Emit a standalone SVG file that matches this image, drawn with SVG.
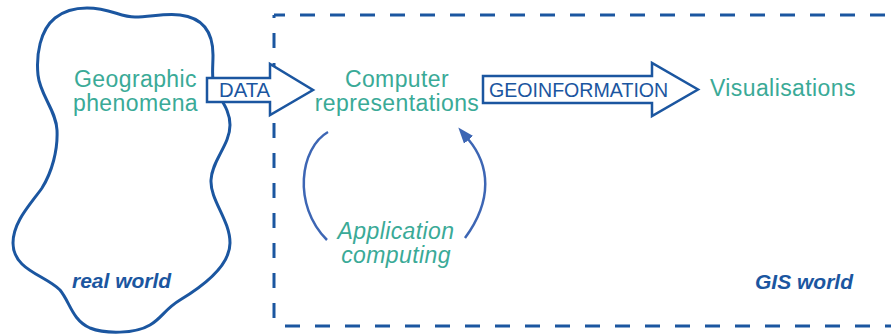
<svg xmlns="http://www.w3.org/2000/svg" width="891" height="335" viewBox="0 0 891 335">
  <style>
    .outline { fill: none; stroke: #1b56a0; stroke-width: 3; }
    .dash { fill: none; stroke: #1b56a0; stroke-width: 3; stroke-dasharray: 15 15; }
    .block { fill: #ffffff; stroke: #1b56a0; stroke-width: 2.5; stroke-linejoin: miter; }
    .teal { fill: #3aaa97; font-family: "Liberation Sans", Arial, sans-serif; font-size: 23px; letter-spacing: 0.4px; }
    .ital { font-style: italic; }
    .label { fill: #1b56a0; font-family: "Liberation Sans", Arial, sans-serif; font-size: 21px; font-weight: bold; font-style: italic; }
    .flow { fill: #1b56a0; font-family: "Liberation Sans", Arial, sans-serif; }
    .cycle { fill: none; stroke: #3d66b4; stroke-width: 2.5; }
  </style>
  <defs>
    <marker id="head" markerUnits="userSpaceOnUse" markerWidth="18" markerHeight="14" viewBox="0 -7 18 14" refX="1" refY="0" orient="auto">
      <path d="M0,-6 L16,0 L0,6 z" fill="#3d66b4"/>
    </marker>
  </defs>

  <g id="real-world">
    <path class="outline" d="M 87,8 C 110,8 120,17 135,17 C 150,17 165,13 180,15 C 205,18 213,35 213,55 C 213,65 212,72 213,80 C 214,95 230,105 230,125 C 230,145 212,160 211,180 C 210,200 230,220 230,243 C 230,265 205,285 180,300 C 165,309 162,318 150,325 C 135,334 105,334 90,328 C 72,320 70,302 60,290 C 45,275 13,270 13,243 C 13,222 30,205 42,188 C 52,172 58,150 57,130 C 56,110 40,95 38,75 C 36,55 40,30 55,18 C 65,10 75,8 87,8 Z"/>
    <text class="label" x="72" y="288">real world</text>
  </g>

  <g id="gis-world">
    <path class="dash" d="M 274,15 H 891" stroke-dashoffset="4"/>
    <path class="dash" d="M 274,15 V 326" stroke-dashoffset="12"/>
    <path class="dash" d="M 274,326 H 891" stroke-dashoffset="19"/>
    <text class="label" x="755" y="289">GIS world</text>
  </g>

  <g id="connectors">
    <g id="data-arrow">
      <polygon class="block" points="207,78 270,78 270,64 313,90 270,115 270,102 207,102"/>
      <text class="flow" x="219" y="97" font-size="20.3">DATA</text>
    </g>
    <g id="geoinformation-arrow">
      <polygon class="block" points="483,76 652,76 652,63 698,89.5 652,116 652,103 483,103"/>
      <text class="flow" x="489" y="97" font-size="19.6">GEOINFORMATION</text>
    </g>
    <path class="cycle" d="M 328,132 C 300,148 292,205 327,240"/>
    <path class="cycle" d="M 465,238 C 493,200 490,165 468,139" marker-end="url(#head)"/>
  </g>

  <g id="geographic-phenomena">
    <text class="teal" text-anchor="middle" x="135.5" y="87">Geographic</text>
    <text class="teal" text-anchor="middle" x="135.5" y="111">phenomena</text>
  </g>

  <g id="computer-representations">
    <text class="teal" text-anchor="middle" x="397" y="87">Computer</text>
    <text class="teal" text-anchor="middle" x="397" y="111">representations</text>
  </g>

  <g id="visualisations">
    <text class="teal" x="710" y="96" font-size="23.5">Visualisations</text>
  </g>

  <g id="application-computing">
    <text class="teal ital" text-anchor="middle" x="396" y="239">Application</text>
    <text class="teal ital" text-anchor="middle" x="396" y="263">computing</text>
  </g>
</svg>
